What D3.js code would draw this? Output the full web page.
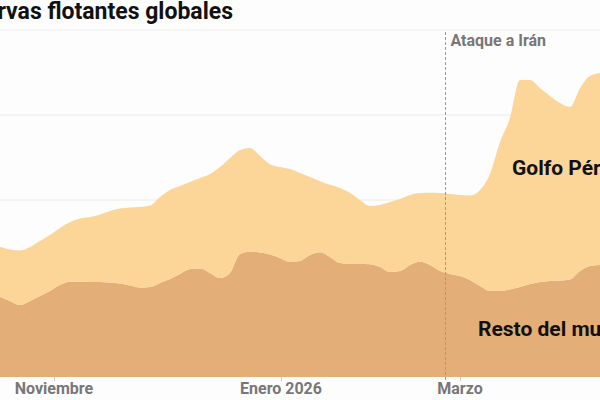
<!DOCTYPE html>
<html>
<head>
<meta charset="utf-8">
<script src="https://cdn.jsdelivr.net/npm/d3@7"></script>
<style>
	body { margin: 0; background: #fdfdfd; }
	svg { display: block; font-family: Roboto, "Liberation Sans", sans-serif; }
</style>
</head>
<body>
<div id="chart"></div>
<script>
//Sample index (one point every few days)
const indice = d3.range(61);

//Golfo Pérsico (stacked on top)
const golfo = [29.4, 30.3, 32.1, 31.8, 32.4, 32.9, 33.5, 35.1, 37.2, 38.2,
	39.7, 42.1, 44.1, 45.9, 47.4, 47.9, 50.6, 52.4, 51.8, 51.2,
	53.2, 58.2, 65.3, 67.6, 61.2, 61.0, 56.8, 53.2, 53.5, 54.7,
	51.8, 45.9, 41.9, 42.4, 44.1, 41.8, 37.6, 34.3, 36.5, 41.2,
	42.4, 41.2, 40.4, 42.4, 45.9, 47.1, 47.6, 49.7, 56.5, 68.8,
	87.6, 100.9, 121.8, 120.0, 114.1, 108.8, 104.4, 101.5, 107.6, 111.8,
	112.9];

//Resto del mundo (bottom layer)
const resto = [43.1, 40.6, 38.2, 40.6, 43.5, 46.5, 50.0, 51.9, 51.9, 51.8,
	51.8, 51.5, 50.9, 49.7, 48.5, 48.8, 51.2, 53.5, 56.5, 59.4,
	59.7, 57.1, 54.1, 57.1, 68.2, 69.6, 69.1, 67.9, 65.9, 63.5,
	64.1, 67.6, 69.2, 66.5, 62.9, 62.4, 62.4, 62.2, 60.6, 57.6,
	58.2, 61.8, 63.7, 61.8, 58.2, 56.5, 55.3, 52.9, 49.4, 46.5,
	46.5, 47.4, 48.8, 50.6, 51.8, 52.4, 52.6, 53.2, 58.2, 61.2,
	61.8];

//Month ticks (positions on the sample index)
const tickPos = [5.4, 28.1, 46.0];
const tickLabels = ["Noviembre", "Enero 2026", "Marzo"];

//Gridline values
const gridValues = [50, 100, 150, 200];

//Attack marker
const ataquePos = 44.5;
const ataqueLabel = "Ataque a Irán";

class StackedArea{

	constructor(locationName, width, height){
		this.locationName = locationName;
		this.width = width;
		this.height = height;
		this.plotBottom = 377;

		this.x = d3.scaleLinear().domain([0, 60]).range([0, width]);
		this.y = d3.scaleLinear().domain([0, 200]).range([370, 30]);

		this.data = indice.map(function(i) {
			return {i: i, resto: resto[i], golfo: golfo[i]};
		});

		this.initGraph();
	}

	initGraph(){
		let self = this;

		this.svg = d3.select(self.locationName).append("svg")
			.attr("width", self.width)
			.attr("height", self.height);

		this.svg.append("rect")
			.attr("width", self.width)
			.attr("height", self.height)
			.attr("fill", "#fdfdfd");

		//Gridlines
		this.svg.selectAll(".grid")
			.data(gridValues)
			.enter().append("line")
			.attr("class", "grid")
			.attr("x1", 0)
			.attr("x2", self.width)
			.attr("y1", function(d) { return self.y(d); })
			.attr("y2", function(d) { return self.y(d); })
			.attr("stroke", "#ececec")
			.attr("stroke-width", 1);

		//Stack the two series
		let stack = d3.stack().keys(["resto", "golfo"]);
		let series = stack(self.data);
		let colors = {resto: "#e3ae77", golfo: "#fcd599"};

		let area = d3.area()
			.x(function(d) { return self.x(d.data.i); })
			.y0(function(d) { return d[0] === 0 ? self.plotBottom : self.y(d[0]); })
			.y1(function(d) { return self.y(d[1]); })
			.curve(d3.curveMonotoneX);

		this.svg.selectAll(".layer")
			.data(series)
			.enter().append("path")
			.attr("class", "layer")
			.attr("d", area)
			.attr("fill", function(d) { return colors[d.key]; });

		//Attack line
		let ax = Math.round(self.x(ataquePos)) + 0.5;
		this.svg.append("line")
			.attr("x1", ax)
			.attr("x2", ax)
			.attr("y1", 32)
			.attr("y2", 381)
			.attr("stroke", "#9a9a9a")
			.attr("stroke-width", 1)
			.attr("stroke-dasharray", "3,2");

		this.svg.append("text")
			.attr("x", ax + 5)
			.attr("y", 46)
			.attr("font-size", "16px")
			.attr("font-weight", "bold")
			.attr("fill", "#777")
			.text(ataqueLabel);

		//X-Axis ticks and labels
		this.svg.selectAll(".tick")
			.data(tickPos)
			.enter().append("line")
			.attr("class", "tick")
			.attr("x1", function(d) { return Math.round(self.x(d)) + 0.5; })
			.attr("x2", function(d) { return Math.round(self.x(d)) + 0.5; })
			.attr("y1", self.plotBottom)
			.attr("y2", self.plotBottom + 4)
			.attr("stroke", "#ccc");

		this.svg.selectAll(".tickLabel")
			.data(tickPos)
			.enter().append("text")
			.attr("class", "tickLabel")
			.attr("x", function(d) { return self.x(d); })
			.attr("y", 394)
			.attr("text-anchor", "middle")
			.attr("font-size", "16px")
			.attr("font-weight", "bold")
			.attr("fill", "#777")
			.text(function(d, i) { return tickLabels[i]; });

		//Series labels
		this.svg.append("text")
			.attr("x", 512)
			.attr("y", 175)
			.attr("font-size", "21px")
			.attr("font-weight", "bold")
			.attr("fill", "#111")
			.text("Golfo Pérsico");

		this.svg.append("text")
			.attr("x", 478)
			.attr("y", 336)
			.attr("font-size", "21px")
			.attr("font-weight", "bold")
			.attr("fill", "#111")
			.text("Resto del mundo");

		//Title (left part cut off like the original crop)
		this.svg.append("text")
			.attr("x", 233)
			.attr("y", 19)
			.attr("text-anchor", "end")
			.attr("font-size", "23px")
			.attr("font-weight", "bold")
			.attr("fill", "#111")
			.text("Reservas flotantes globales");
	}
}

new StackedArea("#chart", 600, 400);
</script>
</body>
</html>
